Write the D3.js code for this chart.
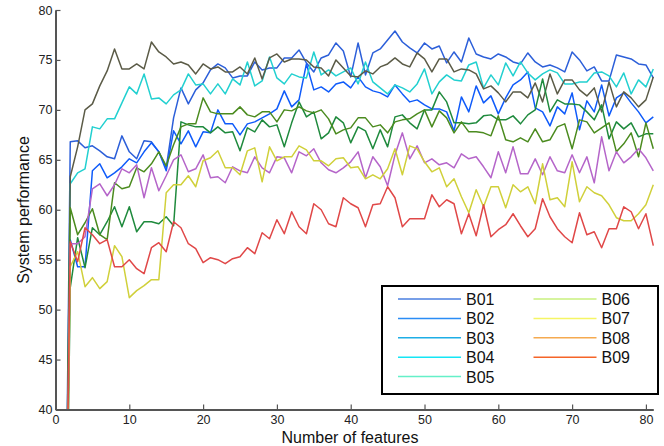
<!DOCTYPE html>
<html lang="en">
<head>
    <meta charset="UTF-8">
    <title>System performance</title>
    <script src="https://d3js.org/d3.v7.min.js"></script>
    <style>
        body { margin: 0; background: #fff; }
        svg { font-family: "Liberation Sans", Arial, sans-serif; }
    </style>
</head>
<body>
    <script>
        const width = 664;
        const height = 446;

        // x = 1..81
        const features = d3.range(1, 82);

        const b01 = [0, 66.8, 66.9, 66.2, 66.4, 65.9, 65.3, 65.1, 67.4, 65.8, 65.1, 66.9, 66.8, 65.8, 64.2, 69.2, 72.2, 70.6, 72.0, 72.7,
            74.0, 74.6, 74.2, 73.2, 73.4, 73.4, 74.8, 74.0, 74.2, 74.2, 75.2, 75.2, 76.0, 74.7, 73.8, 75.2, 75.5, 76.7, 75.9, 73.3,
            76.7, 73.5, 75.7, 76.1, 77.0, 77.9, 76.8, 76.2, 75.7, 76.7, 76.1, 76.4, 74.7, 75.8, 74.8, 77.2, 75.6, 75.3, 75.1, 75.6,
            75.3, 74.8, 74.6, 75.7, 74.8, 74.3, 74.5, 74.2, 73.8, 75.8, 75.0, 73.9, 74.3, 72.9, 72.9, 75.5, 75.3, 75.1, 74.6, 74.5, 73.2];
        const b02 = [0, 57.0, 54.3, 54.3, 63.9, 64.6, 63.2, 63.7, 64.3, 65.1, 64.7, 65.8, 66.7, 65.8, 63.9, 67.9, 66.6, 67.9, 66.3, 67.8,
            67.7, 70.0, 68.6, 68.6, 67.5, 68.6, 68.8, 69.2, 69.6, 70.1, 71.9, 70.3, 71.0, 74.6, 72.0, 72.3, 71.8, 72.6, 72.8, 72.2,
            73.3, 72.3, 71.9, 71.7, 71.3, 72.5, 71.6, 70.8, 71.0, 70.5, 70.1, 70.1, 69.8, 67.9, 71.3, 69.8, 72.4, 70.7, 71.4, 69.6,
            71.2, 72.5, 73.0, 73.8, 70.2, 69.8, 68.4, 70.3, 69.6, 71.7, 68.0, 70.9, 69.8, 72.5, 69.4, 71.2, 71.7, 70.7, 69.8, 68.7, 69.3];
        const b03 = [0, 62.6, 63.7, 64.1, 68.3, 68.1, 69.1, 69.1, 70.7, 72.3, 71.6, 73.6, 71.1, 71.2, 70.6, 71.5, 72.0, 73.6, 72.5, 72.6,
            71.6, 72.6, 71.6, 73.1, 72.5, 74.8, 72.4, 72.9, 75.3, 73.2, 72.6, 73.6, 73.3, 73.2, 75.8, 73.5, 74.0, 73.4, 73.8, 74.2,
            72.6, 74.8, 72.8, 72.2, 71.6, 72.5, 72.2, 71.8, 72.6, 74.1, 71.6, 72.8, 73.5, 73.0, 72.9, 74.5, 74.8, 72.2, 73.5, 72.5,
            74.7, 73.4, 74.8, 73.7, 73.0, 73.6, 74.0, 73.7, 72.6, 72.6, 72.8, 72.8, 73.7, 73.8, 73.4, 72.3, 73.7, 71.6, 73.0, 72.3, 74.1];
        const b04 = [0, 63.3, 66.3, 70.0, 70.6, 72.4, 73.9, 76.1, 74.1, 74.1, 74.6, 74.1, 76.8, 75.8, 75.3, 74.6, 74.8, 74.5, 73.6, 74.6,
            74.1, 74.3, 73.8, 73.8, 74.3, 73.6, 75.2, 73.1, 75.2, 75.6, 74.8, 75.1, 75.1, 75.0, 74.3, 74.2, 73.4, 75.0, 74.2, 73.4,
            73.3, 73.9, 73.6, 74.3, 74.6, 75.2, 74.6, 74.3, 75.7, 75.1, 73.8, 75.1, 75.1, 73.8, 74.1, 74.0, 73.6, 72.1, 72.4, 71.7,
            70.8, 71.8, 71.8, 71.2, 72.7, 70.8, 73.6, 71.6, 73.0, 73.0, 72.0, 71.4, 72.2, 69.8, 72.8, 70.3, 71.8, 71.2, 70.3, 71.0, 73.3];
        const b05 = [0, 52.2, 57.2, 54.2, 58.2, 57.5, 58.8, 60.3, 58.3, 60.3, 57.8, 58.8, 58.8, 58.6, 59.3, 58.4, 68.8, 68.5, 68.3, 68.3,
            67.7, 68.3, 67.7, 67.8, 65.9, 68.2, 67.8, 69.0, 68.3, 68.5, 66.3, 68.7, 70.8, 69.3, 69.8, 67.1, 67.7, 69.3, 68.7, 66.7,
            68.3, 67.9, 66.1, 68.0, 66.3, 69.3, 69.5, 68.7, 68.1, 70.0, 70.0, 71.8, 70.8, 68.7, 68.7, 68.6, 68.7, 69.4, 69.5, 69.0,
            69.0, 69.4, 68.6, 69.5, 70.0, 73.1, 69.8, 71.0, 70.6, 70.6, 70.5, 69.8, 69.0, 70.5, 67.1, 68.8, 68.1, 68.7, 67.3, 67.6, 67.6];
        const b06 = [0, 60.2, 57.5, 58.7, 60.1, 57.5, 57.0, 62.7, 62.1, 62.3, 64.2, 63.8, 64.6, 65.8, 64.4, 66.5, 68.3, 68.6, 68.6, 71.2,
            69.8, 69.6, 69.6, 69.6, 70.3, 69.5, 69.3, 69.8, 69.8, 68.8, 70.0, 69.9, 70.3, 69.9, 69.7, 70.0, 69.1, 67.6, 68.0, 68.2,
            69.2, 69.2, 68.3, 68.5, 67.7, 68.8, 69.0, 69.1, 69.6, 70.0, 68.3, 69.9, 69.2, 67.7, 68.8, 67.8, 67.8, 67.7, 67.4, 69.4,
            67.0, 66.8, 67.2, 66.8, 68.1, 66.8, 67.0, 68.3, 68.6, 66.1, 69.0, 68.8, 67.7, 68.2, 68.7, 65.8, 66.6, 67.7, 65.3, 68.7, 66.1];
        const b07 = [0, 56.6, 56.6, 57.3, 62.1, 62.6, 61.4, 62.5, 64.1, 63.7, 64.5, 61.2, 64.2, 61.9, 63.4, 65.0, 65.5, 63.8, 64.1, 65.5,
            63.2, 63.3, 62.7, 64.3, 63.9, 63.7, 65.3, 64.2, 63.7, 65.3, 65.2, 63.7, 65.8, 65.4, 66.1, 64.7, 64.0, 63.7, 64.2, 64.8,
            65.8, 63.2, 65.3, 64.3, 62.4, 65.5, 67.7, 65.1, 66.4, 64.7, 65.1, 64.5, 64.7, 64.2, 65.6, 65.1, 65.3, 64.3, 63.2, 65.8,
            63.7, 66.3, 63.6, 63.6, 65.1, 63.5, 65.3, 63.9, 63.7, 65.5, 63.7, 65.3, 62.7, 67.3, 63.9, 65.8, 64.7, 65.3, 66.1, 65.2, 63.9];
        const b08 = [0, 54.3, 55.8, 52.3, 53.2, 52.1, 52.8, 56.4, 55.3, 51.2, 51.9, 52.4, 53.0, 53.0, 61.7, 62.5, 62.5, 63.4, 62.3, 64.9,
            65.2, 65.9, 64.2, 64.2, 63.5, 65.9, 66.2, 62.8, 66.3, 64.9, 65.3, 65.3, 66.4, 66.0, 64.9, 64.9, 64.4, 65.1, 65.2, 64.2,
            64.3, 63.1, 63.5, 63.1, 64.1, 66.1, 63.5, 66.4, 66.1, 64.8, 63.8, 64.2, 62.3, 63.1, 61.3, 59.7, 62.0, 60.3, 62.3, 62.3,
            60.2, 62.5, 61.8, 62.3, 60.6, 64.6, 61.0, 61.2, 60.3, 64.8, 60.8, 62.3, 61.7, 61.4, 60.5, 59.2, 58.9, 58.9, 59.6, 60.5, 62.5];
        const b09 = [0, 56.8, 54.8, 58.2, 57.5, 56.6, 57.0, 54.3, 54.3, 55.0, 54.1, 53.6, 56.2, 56.7, 55.8, 58.8, 58.2, 56.6, 56.1, 54.7,
            55.2, 55.0, 54.6, 55.1, 55.3, 56.2, 55.6, 57.7, 57.1, 59.0, 57.6, 59.8, 58.3, 57.6, 60.6, 60.0, 58.6, 58.3, 61.2, 60.6,
            60.2, 58.3, 60.5, 60.6, 62.3, 61.2, 58.3, 59.1, 59.1, 59.1, 61.5, 60.3, 61.0, 60.6, 57.6, 59.6, 57.4, 60.5, 57.3, 58.0,
            58.5, 59.6, 58.4, 57.3, 58.1, 61.1, 59.3, 58.1, 57.3, 56.7, 59.7, 57.5, 57.8, 56.2, 58.1, 58.1, 60.3, 59.8, 58.1, 59.6, 56.4];

        const names = ["B01", "B02", "B03", "B04", "B05", "B06", "B07", "B08", "B09"];
        const values = [b01, b02, b03, b04, b05, b06, b07, b08, b09];
        const lineColors = ["#2c5fd9", "#0f5bfa", "#22d0d0", "#5b5b47", "#1f8a3d", "#4b8b1f", "#b565c9", "#d0d03a", "#e04848"];
        const legendColors = ["#4a7fe0", "#2a8cf5", "#1eaee6", "#14e6f5", "#64f0c8", "#c8f07e", "#f5f564", "#f5aa50", "#f56428"];

        const xTicks = [0, 10, 20, 30, 40, 50, 60, 70, 80];
        const yTicks = [40, 45, 50, 55, 60, 65, 70, 75, 80];

        const x = d3.scaleLinear().domain([0, 81]).range([55.5, 653.3]);
        const y = d3.scaleLinear().domain([40, 80]).range([409.5, 10]);

        const svg = d3.select("body").append("svg")
            .attr("width", width)
            .attr("height", height);

        svg.append("clipPath").attr("id", "plot")
            .append("rect")
            .attr("x", x(0)).attr("y", y(80))
            .attr("width", x(81) - x(0) + 2).attr("height", y(40) - y(80));

        const line = d3.line()
            .x((d, i) => x(features[i]))
            .y(d => y(d));

        svg.append("g")
            .attr("clip-path", "url(#plot)")
            .selectAll("path")
            .data(values)
            .join("path")
            .attr("fill", "none")
            .attr("stroke", (d, i) => lineColors[i])
            .attr("stroke-width", 1.5)
            .attr("stroke-linejoin", "round")
            .attr("d", line);

        // axes, ticks pointing inwards
        const xAxis = svg.append("g")
            .attr("transform", `translate(0,${y(40)})`)
            .call(d3.axisBottom(x).tickValues(xTicks).tickSizeInner(-5).tickSizeOuter(0).tickPadding(6));

        const yAxis = svg.append("g")
            .attr("transform", `translate(${x(0)},0)`)
            .call(d3.axisLeft(y).tickValues(yTicks).tickSizeInner(-5).tickSizeOuter(0).tickPadding(3));

        for (const ax of [xAxis, yAxis]) {
            ax.select(".domain").attr("stroke", "#555").attr("stroke-width", 2);
            ax.selectAll(".tick line").attr("stroke", "#555").attr("stroke-width", 1.2);
            ax.selectAll(".tick text")
                .attr("fill", "#222")
                .style("font-size", "12.5px")
                .style("font-family", "'Liberation Sans', Arial, sans-serif");
        }

        svg.append("text")
            .attr("x", 350)
            .attr("y", 442.5)
            .attr("text-anchor", "middle")
            .attr("fill", "#111")
            .style("font-size", "16px")
            .text("Number of features");

        svg.append("text")
            .attr("transform", "translate(28.5,210) rotate(-90)")
            .attr("text-anchor", "middle")
            .attr("fill", "#111")
            .style("font-size", "16px")
            .text("System performance");

        // legend
        const legend = svg.append("g");
        legend.append("rect")
            .attr("x", 382).attr("y", 286)
            .attr("width", 276).attr("height", 108)
            .attr("fill", "#fff")
            .attr("stroke", "#000")
            .attr("stroke-width", 2);

        const item = legend.selectAll("g.item")
            .data(names)
            .join("g")
            .attr("class", "item")
            .attr("transform", (d, i) => {
                const col = i < 5 ? 0 : 1;
                const row = i < 5 ? i : i - 5;
                return `translate(${398 + col * 135.5},${299 + row * 19.4})`;
            });

        item.append("line")
            .attr("x1", 0).attr("x2", 63)
            .attr("stroke", (d, i) => legendColors[i])
            .attr("stroke-width", 1.5);

        item.append("text")
            .attr("x", 68)
            .attr("y", 6)
            .attr("fill", "#111")
            .style("font-size", "16px")
            .text(d => d);
    </script>
</body>
</html>
